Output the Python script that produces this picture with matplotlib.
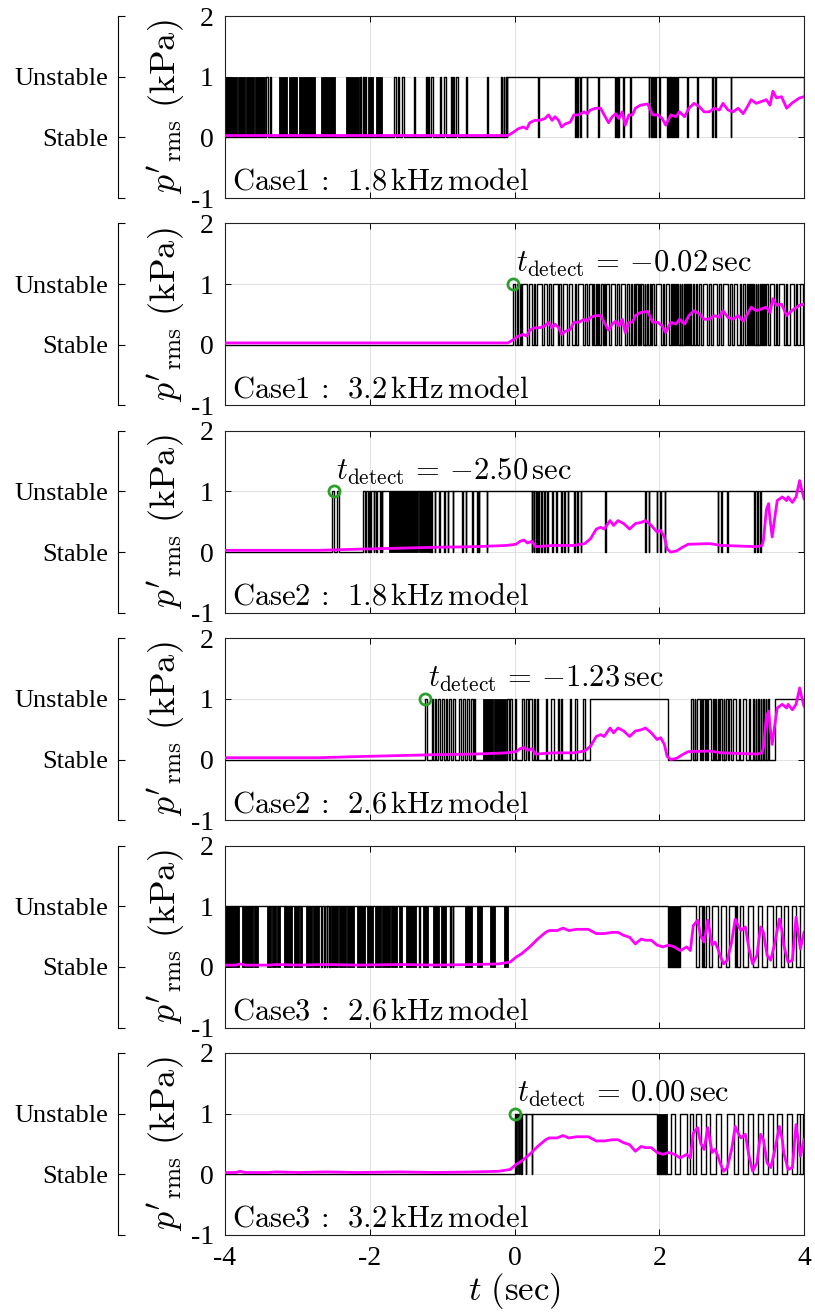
#!/usr/bin/env python3
"""
Stability classifier output vs. measured p'rms for three cases.
"""

import matplotlib
matplotlib.use('Agg')
import matplotlib.pyplot as plt
import numpy as np

plt.rcParams['mathtext.fontset'] = 'cm'
plt.rcParams['font.family'] = ['Liberation Serif', 'DejaVu Serif']

# ---------------------------------------------------------------- data
panel_titles = [r'$\mathrm{Case1\,:\ \,1.8\,kHz\,model}$',
                r'$\mathrm{Case1\,:\ \,3.2\,kHz\,model}$',
                r'$\mathrm{Case2\,:\ \,1.8\,kHz\,model}$',
                r'$\mathrm{Case2\,:\ \,2.6\,kHz\,model}$',
                r'$\mathrm{Case3\,:\ \,2.6\,kHz\,model}$',
                r'$\mathrm{Case3\,:\ \,3.2\,kHz\,model}$']
t_detect = [None, -0.02, -2.50, -1.23, None, 0.00]
panel_case = [0, 0, 1, 1, 2, 2]

# measured p'rms (t [s], kPa)
case1_prms = [(-4.00, 0.03), (-3.00, 0.03), (-2.00, 0.03), (-1.00, 0.03), (-0.09, 0.03),
              (-0.02, 0.08), (0.05, 0.14), (0.12, 0.17), (0.17, 0.14), (0.21, 0.24),
              (0.28, 0.28), (0.35, 0.28), (0.42, 0.31), (0.47, 0.37), (0.52, 0.28),
              (0.56, 0.34), (0.61, 0.28), (0.65, 0.17), (0.70, 0.22), (0.77, 0.25),
              (0.82, 0.37), (0.89, 0.37), (0.96, 0.42), (1.00, 0.39), (1.05, 0.45),
              (1.12, 0.48), (1.19, 0.48), (1.23, 0.39), (1.30, 0.24), (1.35, 0.34),
              (1.40, 0.39), (1.44, 0.31), (1.49, 0.42), (1.53, 0.20), (1.58, 0.37),
              (1.63, 0.37), (1.67, 0.48), (1.74, 0.53), (1.84, 0.55), (1.91, 0.37),
              (1.98, 0.37), (2.04, 0.31), (2.09, 0.20), (2.16, 0.37), (2.23, 0.34),
              (2.28, 0.42), (2.35, 0.34), (2.41, 0.48), (2.48, 0.56), (2.55, 0.51),
              (2.62, 0.42), (2.69, 0.42), (2.76, 0.48), (2.83, 0.45), (2.88, 0.56),
              (2.95, 0.45), (3.02, 0.42), (3.09, 0.48), (3.16, 0.39), (3.23, 0.53),
              (3.27, 0.62), (3.34, 0.56), (3.41, 0.59), (3.48, 0.62), (3.53, 0.53),
              (3.57, 0.76), (3.62, 0.65), (3.69, 0.67), (3.76, 0.48), (3.83, 0.56),
              (3.90, 0.62), (3.94, 0.65), (4.00, 0.67)]
case2_prms = [(-4.00, 0.03), (-2.71, 0.03), (-2.12, 0.05), (-1.09, 0.08), (-0.55, 0.09),
              (-0.11, 0.11), (0.02, 0.13), (0.08, 0.18), (0.13, 0.20), (0.18, 0.15),
              (0.24, 0.18), (0.29, 0.09), (0.54, 0.11), (0.81, 0.11), (0.97, 0.14),
              (1.05, 0.22), (1.13, 0.38), (1.19, 0.41), (1.24, 0.38), (1.32, 0.52),
              (1.37, 0.44), (1.43, 0.52), (1.51, 0.47), (1.59, 0.38), (1.67, 0.47),
              (1.75, 0.49), (1.81, 0.52), (1.89, 0.44), (1.97, 0.33), (2.02, 0.36),
              (2.07, 0.25), (2.11, 0.05), (2.16, 0.00), (2.24, 0.02), (2.32, 0.08),
              (2.40, 0.13), (2.70, 0.14), (2.86, 0.11), (3.35, 0.09), (3.42, 0.11),
              (3.44, 0.20), (3.48, 0.70), (3.51, 0.80), (3.53, 0.55), (3.56, 0.25),
              (3.60, 0.60), (3.63, 0.85), (3.70, 0.91), (3.76, 0.85), (3.78, 0.91),
              (3.84, 0.82), (3.89, 0.91), (3.94, 1.18), (3.96, 1.07), (4.00, 0.88)]
case3_prms = [(-4.00, 0.03), (-3.85, 0.03), (-3.79, 0.05), (-3.72, 0.03), (-3.40, 0.03),
              (-3.30, 0.04), (-2.98, 0.03), (-2.60, 0.04), (-2.17, 0.03), (-1.60, 0.04),
              (-1.09, 0.03), (-0.55, 0.04), (-0.22, 0.05), (-0.06, 0.08), (0.02, 0.16),
              (0.10, 0.22), (0.21, 0.33), (0.32, 0.46), (0.43, 0.57), (0.48, 0.60),
              (0.59, 0.60), (0.67, 0.64), (0.75, 0.60), (0.86, 0.62), (1.02, 0.62),
              (1.13, 0.55), (1.24, 0.55), (1.35, 0.57), (1.43, 0.57), (1.51, 0.52),
              (1.59, 0.49), (1.67, 0.38), (1.75, 0.46), (1.81, 0.44), (1.89, 0.44),
              (1.97, 0.36), (2.05, 0.33), (2.13, 0.36), (2.21, 0.33), (2.29, 0.27),
              (2.38, 0.33), (2.43, 0.27), (2.47, 0.68), (2.53, 0.77), (2.57, 0.52),
              (2.62, 0.41), (2.67, 0.77), (2.70, 0.57), (2.73, 0.36), (2.77, 0.41),
              (2.81, 0.30), (2.84, 0.19), (2.89, 0.05), (2.94, 0.11), (3.00, 0.41),
              (3.05, 0.79), (3.09, 0.68), (3.13, 0.60), (3.19, 0.66), (3.24, 0.30),
              (3.29, 0.05), (3.35, 0.19), (3.40, 0.66), (3.44, 0.57), (3.49, 0.19),
              (3.54, 0.11), (3.59, 0.36), (3.66, 0.79), (3.70, 0.57), (3.72, 0.36),
              (3.78, 0.08), (3.84, 0.11), (3.89, 0.82), (3.95, 0.30), (4.00, 0.57)]
prms_cases = [case1_prms, case2_prms, case3_prms]

# classifier output: intervals flagged "Unstable" (1) ...
unstable_1 = [(-3.43, -3.41), (-3.38, -3.36), (-2.13, -2.12), (-2.09, -2.08), (-2.06, -2.05),
              (-1.66, -1.64), (-1.61, -1.60), (-1.56, -1.53), (-1.39, -1.37), (-1.22, -1.21),
              (-1.19, -1.18), (-1.15, -1.13), (-1.03, -1.01), (-0.97, -0.95), (-0.88, -0.87),
              (-0.85, -0.84), (-0.81, -0.78), (-0.67, -0.65), (-0.38, -0.36), (-0.18, -0.17),
              (-0.15, -0.14), (-0.12, -0.11), (-0.10, 0.325), (0.335, 0.835), (0.845, 0.865),
              (0.875, 0.905), (0.915, 0.995), (1.005, 1.155), (1.165, 1.395), (1.405, 1.415),
              (1.425, 1.435), (1.445, 1.505), (1.515, 1.595), (1.605, 1.855), (1.865, 1.885),
              (1.895, 1.915), (1.925, 1.945), (1.955, 1.995), (2.005, 2.105), (2.115, 2.125),
              (2.135, 2.145), (2.155, 2.165), (2.175, 2.195), (2.205, 2.215), (2.225, 2.245),
              (2.255, 2.385), (2.395, 2.525), (2.535, 2.735), (2.745, 2.775), (2.785, 2.985),
              (2.995, 4.0)]
unstable_2 = [(-0.02, 0.01), (0.03, 0.05), (0.07, 0.09), (0.11, 0.17), (0.20, 0.24),
              (0.27, 0.29), (0.31, 0.38), (0.41, 0.45), (0.48, 0.50), (0.53, 0.60),
              (0.62, 0.64), (0.67, 0.72), (0.75, 0.80), (0.83, 0.85), (0.88, 0.95),
              (0.98, 1.00), (1.03, 1.07), (1.09, 1.10), (1.12, 1.14), (1.16, 1.17),
              (1.19, 1.22), (1.24, 1.25), (1.27, 1.30), (1.33, 1.39), (1.42, 1.44),
              (1.47, 1.53), (1.56, 1.58), (1.61, 1.63), (1.65, 1.66), (1.68, 1.70),
              (1.72, 1.73), (1.75, 1.78), (1.80, 1.81), (1.83, 1.85), (1.87, 1.88),
              (1.90, 1.93), (1.96, 2.02), (2.05, 2.07), (2.10, 2.14), (2.16, 2.17),
              (2.19, 2.20), (2.22, 2.23), (2.25, 2.26), (2.28, 2.29), (2.31, 2.32),
              (2.34, 2.35), (2.37, 2.38), (2.40, 2.41), (2.43, 2.44), (2.46, 2.48),
              (2.51, 2.52), (2.55, 2.58), (2.61, 2.66), (2.69, 2.71), (2.74, 2.80),
              (2.83, 2.85), (2.88, 2.95), (2.98, 3.00), (3.03, 3.08), (3.11, 3.13),
              (3.16, 3.18), (3.21, 3.22), (3.24, 3.25), (3.27, 3.28), (3.30, 3.31),
              (3.33, 3.34), (3.36, 3.37), (3.39, 3.40), (3.42, 3.43), (3.45, 3.46),
              (3.48, 3.50), (3.53, 3.58), (3.61, 3.63), (3.66, 3.72), (3.75, 3.77),
              (3.80, 3.86), (3.89, 3.91), (3.94, 3.99)]
unstable_3 = [(-2.52, -2.49), (-2.45, -2.42), (-2.10, -2.065), (-2.055, -2.025), (-2.015, -1.995),
              (-1.985, -1.945), (-1.935, -1.915), (-1.905, -1.855), (-1.845, -1.835),
              (-1.825, -1.17), (-1.17, -1.155), (-1.145, -1.105), (-1.095, -1.045),
              (-1.035, -0.975), (-0.965, -0.925), (-0.915, -0.855), (-0.845, -0.725),
              (-0.715, -0.675), (-0.665, -0.585), (-0.575, -0.515), (-0.505, -0.495),
              (-0.485, -0.385), (-0.375, 0.235), (0.245, 0.265), (0.275, 0.295),
              (0.305, 0.325), (0.335, 0.365), (0.375, 0.405), (0.415, 0.455), (0.465, 0.525),
              (0.535, 0.575), (0.585, 0.645), (0.655, 0.685), (0.695, 0.735), (0.745, 0.825),
              (0.835, 0.865), (0.875, 0.915), (0.925, 1.255), (1.265, 1.805), (1.815, 1.855),
              (1.865, 1.965), (1.975, 2.015), (2.025, 2.075), (2.085, 2.805), (2.815, 2.855),
              (2.865, 2.935), (2.945, 3.315), (3.325, 3.355), (3.365, 3.395), (3.405, 4.0)]
unstable_4 = [(-1.235, -1.215), (-1.14, -1.12), (-1.10, -1.08), (-1.06, -1.03), (-1.00, -0.98),
              (-0.95, -0.93), (-0.90, -0.88), (-0.85, -0.82), (-0.76, -0.74), (-0.71, -0.69),
              (-0.66, -0.63), (-0.60, -0.58), (-0.56, -0.54), (-0.10, -0.08), (-0.06, -0.04),
              (0.00, 0.02), (0.11, 0.13), (0.16, 0.18), (0.20, 0.24), (0.27, 0.29),
              (0.31, 0.33), (0.43, 0.45), (0.50, 0.54), (0.60, 0.61), (0.64, 0.65),
              (0.76, 0.78), (0.83, 0.87), (0.95, 0.97), (1.05, 2.12), (2.44, 2.47),
              (2.49, 2.50), (2.52, 2.56), (2.58, 2.59), (2.61, 2.63), (2.65, 2.66),
              (2.68, 2.72), (2.74, 2.75), (2.77, 2.79), (2.81, 2.82), (2.84, 2.87),
              (2.89, 2.90), (2.92, 2.95), (2.97, 2.99), (3.02, 3.06), (3.10, 3.12),
              (3.16, 3.20), (3.24, 3.26), (3.29, 3.31), (3.33, 3.34), (3.36, 3.38),
              (3.40, 3.41), (3.43, 3.45), (3.47, 3.48), (3.50, 3.52), (3.60, 4.0)]
unstable_5 = [(-4.0, -2.675), (-2.665, -2.635), (-2.625, -2.595), (-2.585, -2.565),
              (-2.555, -1.315), (-1.305, -0.885), (-0.875, -0.855), (-0.845, 2.12),
              (2.28, 2.51), (2.55, 2.59), (2.61, 2.62), (2.65, 2.69), (2.73, 2.81),
              (2.86, 2.92), (2.97, 3.04), (3.06, 3.07), (3.11, 3.16), (3.22, 3.30),
              (3.36, 3.42), (3.49, 3.57), (3.62, 3.68), (3.73, 3.78), (3.84, 3.89),
              (3.95, 4.0)]
unstable_6 = [(0.0, 0.095), (0.105, 0.155), (0.165, 0.235), (0.245, 1.97), (2.16, 2.22),
              (2.29, 2.38), (2.43, 2.47), (2.51, 2.57), (2.65, 2.70), (2.78, 2.86),
              (2.94, 3.03), (3.09, 3.16), (3.23, 3.30), (3.36, 3.43), (3.50, 3.57),
              (3.63, 3.70), (3.77, 3.84), (3.90, 3.95), (3.98, 4.0)]
unstable = [unstable_1, unstable_2, unstable_3, unstable_4, unstable_5, unstable_6]

# ... and spans of rapid switching (appear solid black)
chatter_1 = [(-4.00, -3.84), (-3.82, -3.73), (-3.71, -3.60), (-3.58, -3.45), (-3.26, -3.14),
             (-3.12, -3.00), (-2.98, -2.76), (-2.68, -2.48), (-2.33, -2.15), (-2.03, -1.95),
             (-1.91, -1.83)]
chatter_2 = []
chatter_3 = [(-1.74, -1.34), (-1.32, -1.17)]
chatter_4 = [(-0.43, -0.30), (-0.28, -0.12)]
chatter_5 = [(-4.00, -3.81), (-3.76, -3.62), (-3.60, -3.54), (-3.42, -3.37), (-3.35, -3.30),
             (-3.28, -3.24), (-3.18, -3.07), (-3.05, -2.98), (-2.96, -2.93), (-2.88, -2.80),
             (-2.78, -2.70), (-2.54, -2.44), (-2.42, -2.33), (-2.31, -2.22), (-2.18, -2.06),
             (-2.04, -1.95), (-1.93, -1.85), (-1.83, -1.72), (-1.70, -1.62), (-1.60, -1.56),
             (-1.50, -1.36), (-1.27, -1.20), (-1.13, -1.04), (-1.02, -0.95), (-0.68, -0.59),
             (-0.52, -0.45), (-0.34, -0.27), (-0.14, -0.09), (2.12, 2.28)]
chatter_6 = [(0.00, 0.03), (0.05, 0.08), (1.97, 2.11)]
chatter = [chatter_1, chatter_2, chatter_3, chatter_4, chatter_5, chatter_6]

x_ticks = [-4, -2, 0, 2, 4]
y_ticks = [-1, 0, 1, 2]


def step_path(intervals):
    """Vertices of a 0/1 step signal from its 'on' intervals."""
    xs, ys = [-4.0], [0.0]
    for a, b in intervals:
        xs += [a, a, b, b]
        ys += [0, 1, 1, 0]
    xs.append(4.0)
    ys.append(0.0)
    return xs, ys


W, H = 815, 1316
SERIF = 'Liberation Serif'
fig = plt.figure(figsize=(W / 100, H / 100), dpi=100)

for i in range(6):
    top_px = 16 + 207.4 * i
    bottom = 1 - (top_px + 182) / H
    height = 182 / H
    ax = fig.add_axes([225 / W, bottom, 579 / W, height])

    # classifier output
    xs, ys = step_path(unstable[i])
    ax.plot(xs, ys, color='black', linewidth=1.0, zorder=2)
    for a, b in chatter[i]:
        ax.fill_between([a, b], 0, 1, color='black', linewidth=0.6, zorder=2)

    # measured pressure
    p = np.array(prms_cases[panel_case[i]])
    ax.plot(p[:, 0], p[:, 1], color='#ff00ff', linewidth=2.0, zorder=3)

    if t_detect[i] is not None:
        sign = '{-}' if t_detect[i] < 0 else ''
        ax.plot(t_detect[i], 1, 'o', markersize=8, markerfacecolor='none',
                markeredgecolor='#2ca02c', markeredgewidth=2.0, zorder=4)
        ax.text(t_detect[i] + 0.04, 1.2,
                r'$t_{\rm detect}\,=\,%s%.2f\,{\rm sec}$' % (sign, abs(t_detect[i])),
                fontsize=22, ha='left', va='baseline', zorder=5)

    ax.text(0.012, 0.045, panel_titles[i], transform=ax.transAxes,
            fontsize=22, ha='left', va='baseline', zorder=5)

    ax.set_xlim(-4, 4)
    ax.set_ylim(-1, 2)
    ax.set_xticks(x_ticks)
    ax.set_yticks(y_ticks)
    ax.set_yticklabels([str(v) for v in y_ticks])
    if i == 5:
        ax.set_xticklabels([str(v) for v in x_ticks])
        ax.set_xlabel(r'$t\ (\rm sec)$', fontsize=25, labelpad=0)
    else:
        ax.set_xticklabels([])
    ax.tick_params(direction='in', length=4, width=0.7, top=True, right=True,
                   labelsize=20, pad=8, labelfontfamily=SERIF)
    ax.grid(True, color='#dcdcdc', linewidth=0.6)
    ax.set_axisbelow(True)
    for s in ax.spines.values():
        s.set_linewidth(0.8)
        s.set_color('#222222')

    ax.set_ylabel(r"$p'_{\rm rms}\ (\rm kPa)$", fontsize=26)
    ax.yaxis.set_label_coords(-0.066, 0.5)

    # bracket axis with the class names
    bx = fig.add_axes([118 / W, bottom, 0.0001, height])
    bx.set_facecolor('none')
    for s in ['top', 'right', 'bottom']:
        bx.spines[s].set_visible(False)
    bx.spines['left'].set_linewidth(0.8)
    bx.set_ylim(-1, 2)
    bx.set_yticks(y_ticks)
    bx.set_yticklabels(['', 'Stable', 'Unstable', ''])
    bx.set_xticks([])
    bx.tick_params(axis='y', direction='in', length=5, width=0.8, labelsize=19, pad=7,
                   labelfontfamily=SERIF)

fig.savefig('out.png', dpi=100)
plt.close(fig)
